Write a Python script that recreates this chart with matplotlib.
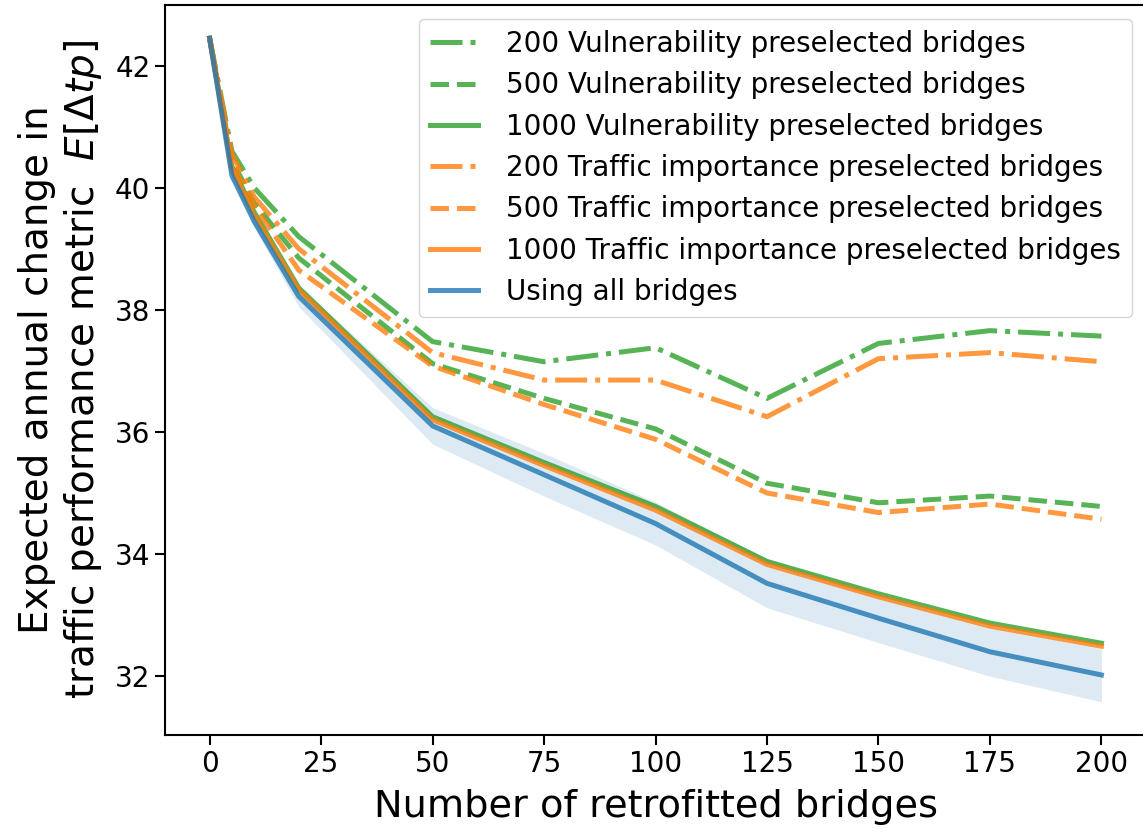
import matplotlib
matplotlib.use("Agg")
import matplotlib.pyplot as plt

# ---------------------------------------------------------
# Data
# ---------------------------------------------------------
n_retrofitted = [0, 5, 10, 20, 50, 75, 100, 125, 150, 175, 200]

vuln_200 = [42.45, 40.6, 40.0, 39.2, 37.48, 37.15, 37.38, 36.55, 37.45, 37.66, 37.57]
vuln_500 = [42.45, 40.45, 39.75, 38.85, 37.12, 36.55, 36.05, 35.16, 34.84, 34.95, 34.78]
vuln_1000 = [42.45, 40.35, 39.6, 38.36, 36.25, 35.5, 34.78, 33.88, 33.35, 32.87, 32.54]

traffic_200 = [42.45, 40.55, 39.85, 39.0, 37.3, 36.85, 36.85, 36.25, 37.2, 37.3, 37.15]
traffic_500 = [42.45, 40.4, 39.7, 38.65, 37.08, 36.45, 35.88, 35.0, 34.68, 34.82, 34.57]
traffic_1000 = [42.45, 40.3, 39.55, 38.33, 36.2, 35.45, 34.72, 33.83, 33.3, 32.82, 32.49]

all_bridges = [42.45, 40.2, 39.45, 38.22, 36.1, 35.3, 34.5, 33.52, 32.95, 32.4, 32.02]
all_lower = [42.45, 40.15, 39.35, 38.05, 35.8, 34.95, 34.15, 33.12, 32.55, 32.0, 31.58]
all_upper = [42.45, 40.25, 39.55, 38.4, 36.4, 35.65, 34.85, 33.92, 33.35, 32.8, 32.45]

green = "tab:green"
orange = "tab:orange"
blue = "tab:blue"
lw = 3.6

# ---------------------------------------------------------
# Plot
# ---------------------------------------------------------
fig = plt.figure(figsize=(11.43, 8.35), dpi=100)
# right spine sits just past the image edge in the reference
ax = fig.add_axes([165 / 1143, 100 / 835, 981 / 1143, 730 / 835])

ax.plot(n_retrofitted, vuln_200, color=green, ls="-.", lw=lw, alpha=0.8,
        label="200 Vulnerability preselected bridges")
ax.plot(n_retrofitted, vuln_500, color=green, ls="--", lw=lw, alpha=0.8,
        label="500 Vulnerability preselected bridges")
ax.plot(n_retrofitted, vuln_1000, color=green, ls="-", lw=lw, alpha=0.8,
        label="1000 Vulnerability preselected bridges")
ax.plot(n_retrofitted, traffic_200, color=orange, ls="-.", lw=lw, alpha=0.8,
        label="200 Traffic importance preselected bridges")
ax.plot(n_retrofitted, traffic_500, color=orange, ls="--", lw=lw, alpha=0.8,
        label="500 Traffic importance preselected bridges")
ax.plot(n_retrofitted, traffic_1000, color=orange, ls="-", lw=lw, alpha=0.8,
        label="1000 Traffic importance preselected bridges")
ax.plot(n_retrofitted, all_bridges, color=blue, ls="-", lw=lw, alpha=0.8,
        label="Using all bridges")
ax.fill_between(n_retrofitted, all_lower, all_upper, color=blue, alpha=0.15, lw=0)

ax.set_xticks([0, 25, 50, 75, 100, 125, 150, 175, 200])
ax.set_yticks([32, 34, 36, 38, 40, 42])
ax.tick_params(labelsize=20, length=7, width=1.5)
for sp in ax.spines.values():
    sp.set_linewidth(1.5)
ax.set_xlabel("Number of retrofitted bridges", fontsize=27.5, labelpad=8)
ax.set_ylabel("Expected annual change in\ntraffic performance metric  $E[\\Delta tp]$",
              fontsize=28, labelpad=8)

ax.legend(loc="upper right", fontsize=20, handlelength=1.75,
          handletextpad=1.0, labelspacing=0.48)

fig.savefig("out.png", dpi=100)
